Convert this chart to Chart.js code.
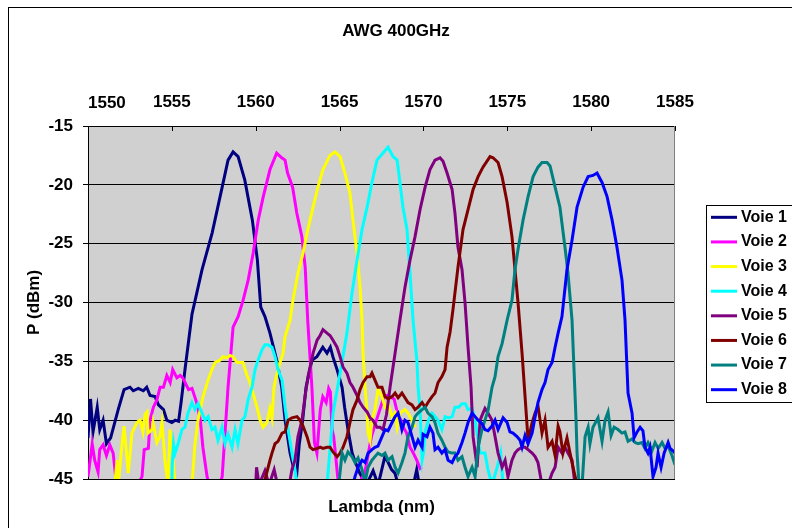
<!DOCTYPE html>
<html>
<head>
<meta charset="utf-8">
<title>AWG 400GHz</title>
<script src="https://cdn.jsdelivr.net/npm/chart.js@4.4.1/dist/chart.umd.min.js"></script>
<style>
  html, body { margin: 0; padding: 0; background: #fff; }
  #wrap { width: 792px; height: 528px; }
</style>
</head>
<body>
<div id="wrap"><canvas id="awgChart" width="792" height="528"></canvas></div>
<script>
// ---- texts ----
const CHART_TITLE = 'AWG 400GHz';
const X_TITLE = 'Lambda (nm)';
const Y_TITLE = 'P (dBm)';
const SERIES_NAMES = ['Voie 1', 'Voie 2', 'Voie 3', 'Voie 4', 'Voie 5', 'Voie 6', 'Voie 7', 'Voie 8'];
const SERIES_COLORS = ['#000080', '#FF00FF', '#FFFF00', '#00FFFF', '#800080', '#800000', '#008080', '#0000FF'];

// ---- axes (nm / dBm) ----
const X_TICKS = [1550, 1555, 1560, 1565, 1570, 1575, 1580, 1585];
const Y_TICKS = [-45, -40, -35, -30, -25, -20, -15];

// ---- measured spectra : [lambda nm, power dBm] ----
const voie1 = [[1550.0,-41.5],[1550.15,-38.2],[1550.3,-41],[1550.55,-38.9],[1550.7,-40.8],[1550.9,-40],[1551.1,-42],[1551.35,-41.5],[1551.8,-39.1],[1552.15,-37.4],[1552.5,-37.2],[1552.7,-37.5],[1553.0,-37.3],[1553.3,-37.5],[1553.5,-37.2],[1553.7,-37.9],[1554.0,-38],[1554.2,-38.7],[1554.5,-39.1],[1554.7,-40],[1555.0,-40.2],[1555.2,-40],[1555.4,-40.1],[1555.55,-38.5],[1555.8,-35.5],[1556.2,-31],[1556.8,-27.2],[1557.4,-24.1],[1558.0,-20.2],[1558.35,-17.9],[1558.65,-17.2],[1558.95,-17.6],[1559.35,-19.6],[1559.8,-23],[1560.1,-26.4],[1560.3,-30.4],[1560.55,-31.2],[1560.85,-32.6],[1561.25,-34.9],[1561.55,-37.2],[1561.75,-40],[1562.05,-42.8],[1562.25,-44],[1562.45,-44.5],[1562.6,-42],[1562.8,-40],[1563.0,-37.2],[1563.35,-34.9],[1563.65,-34.6],[1564.0,-33.8],[1564.25,-34.3],[1564.45,-33.8],[1564.6,-34.6],[1564.85,-35.7],[1565.15,-37.2],[1565.3,-38.9],[1565.5,-40.8],[1565.75,-42.8],[1565.9,-43.4],[1566.2,-44.5],[1566.6,-45.5],[1567.0,-44.3],[1567.3,-45.5],[1567.7,-43.1],[1567.9,-43.6],[1568.1,-44.2],[1568.3,-44.5],[1568.5,-45.5],[1569.4,-45.5],[1569.6,-44.2],[1569.75,-45.5]];
const voie2 = [[1550.0,-44.8],[1550.25,-42],[1550.4,-43.4],[1550.6,-44.4],[1550.7,-42.5],[1550.9,-42.1],[1551.1,-43],[1551.3,-42.1],[1551.5,-42.8],[1551.65,-44.8],[1552.4,-47],[1553.22,-44.8],[1553.35,-42.5],[1553.6,-42.4],[1553.7,-40],[1553.9,-38.9],[1554.1,-38.3],[1554.3,-37.2],[1554.5,-37.2],[1554.7,-36.2],[1554.9,-36.8],[1555.05,-35.7],[1555.3,-36.4],[1555.5,-36.2],[1555.65,-36.4],[1556.0,-37.4],[1556.2,-37.3],[1556.5,-38.6],[1556.7,-40],[1556.85,-42.3],[1557.1,-44.8],[1557.5,-47],[1558.0,-44.8],[1558.35,-37.2],[1558.65,-32.1],[1558.95,-31.2],[1559.25,-29.8],[1559.55,-28.1],[1559.85,-25.8],[1560.15,-23],[1560.45,-21],[1560.85,-18.7],[1561.25,-17.3],[1561.55,-17.7],[1561.75,-17.9],[1561.9,-19],[1562.2,-20.2],[1562.45,-22.4],[1562.75,-24.4],[1562.95,-27],[1563.1,-31.5],[1563.35,-37.2],[1563.5,-41.9],[1563.65,-42.8],[1563.85,-39.1],[1564.0,-38],[1564.2,-38.5],[1564.35,-37.3],[1564.45,-37.6],[1564.55,-40.8],[1564.65,-41.4],[1564.75,-42.8],[1564.9,-45],[1565.5,-47],[1566.5,-44.5],[1566.9,-41.4],[1567.2,-40],[1567.65,-38],[1567.85,-37.9],[1568.25,-38.2],[1568.45,-39.4],[1568.65,-40],[1568.8,-40.6],[1569.0,-41.1],[1569.2,-42.3],[1569.4,-42.8],[1569.6,-43.4],[1569.8,-44.1],[1569.9,-44]];
const voie3 = [[1551.6,-45.5],[1551.73,-43.4],[1551.8,-45.5],[1552.0,-42.5],[1552.15,-40.5],[1552.4,-44.5],[1552.62,-41.1],[1552.92,-40.2],[1553.1,-40],[1553.28,-41],[1553.4,-39.5],[1553.52,-39.3],[1553.58,-41.1],[1553.82,-40.8],[1553.88,-40.2],[1554.11,-41.9],[1554.29,-41.4],[1554.41,-40.2],[1554.59,-43.4],[1554.77,-45.5],[1554.89,-40.8],[1555.05,-43],[1555.19,-45.5],[1556.2,-45.5],[1556.38,-42],[1556.56,-40],[1556.86,-38],[1557.16,-36.6],[1557.39,-35.7],[1557.57,-35.1],[1557.87,-34.9],[1558.05,-34.6],[1558.29,-34.7],[1558.47,-34.5],[1558.65,-34.6],[1558.88,-35.1],[1559.06,-35.1],[1559.24,-35.1],[1559.48,-36.2],[1559.66,-36.8],[1559.84,-37.7],[1560.08,-38.9],[1560.26,-40],[1560.44,-40.6],[1560.67,-40.2],[1560.85,-39],[1560.97,-39.8],[1561.09,-37.2],[1561.27,-36],[1561.45,-35.1],[1561.63,-34.3],[1561.75,-32.9],[1562.05,-31.5],[1562.22,-29.8],[1562.52,-27.5],[1562.82,-25.8],[1563.06,-24.1],[1563.42,-21.9],[1563.71,-20.2],[1564.01,-18.7],[1564.43,-17.5],[1564.73,-17.2],[1565.03,-17.6],[1565.32,-19],[1565.62,-20.7],[1565.8,-23],[1566.04,-25.8],[1566.22,-28.7],[1566.34,-31.5],[1566.4,-34.3],[1566.52,-37.2],[1566.64,-39.4],[1566.7,-41.1],[1566.82,-41.7],[1566.93,-40],[1567.11,-39.1],[1567.29,-37.4],[1567.53,-38],[1567.71,-38.9],[1567.89,-38.6],[1568.13,-39.7],[1568.31,-39.4],[1568.43,-40.6],[1568.6,-39.4],[1568.9,-39.1],[1569.08,-39.4],[1569.32,-40],[1569.5,-40.6]];
const voie4 = [[1555.0,-45.5],[1555.03,-43.6],[1555.1,-42],[1555.19,-42.8],[1555.37,-42],[1555.6,-40.8],[1555.78,-40.6],[1555.96,-39.4],[1556.2,-38.5],[1556.38,-39.1],[1556.56,-38.6],[1556.8,-39.4],[1556.98,-40],[1557.16,-39.7],[1557.39,-40.8],[1557.57,-40.6],[1557.75,-41.7],[1557.99,-40.6],[1558.17,-42],[1558.35,-41.2],[1558.59,-42.3],[1558.77,-40.8],[1558.94,-42],[1559.18,-40],[1559.36,-39.7],[1559.54,-38.3],[1559.78,-37.2],[1559.96,-35.7],[1560.14,-34.9],[1560.38,-34],[1560.55,-33.6],[1560.73,-33.6],[1560.97,-33.8],[1561.15,-34.6],[1561.33,-35.7],[1561.57,-36.6],[1561.75,-38.9],[1561.93,-40.8],[1562.16,-42.8],[1562.34,-44.2],[1562.46,-45.5],[1564.25,-45.5],[1564.4,-43],[1564.61,-39.4],[1565.03,-36],[1565.44,-32.6],[1565.74,-29.2],[1566.04,-26.4],[1566.34,-23.8],[1566.64,-21.9],[1566.93,-19.8],[1567.23,-17.9],[1567.59,-17.3],[1567.89,-16.8],[1568.19,-17.6],[1568.43,-17.9],[1568.6,-19.8],[1568.78,-21.9],[1569.02,-23.8],[1569.2,-27.5],[1569.38,-31.5],[1569.62,-35.1],[1569.68,-37.2],[1569.8,-39.1],[1569.92,-43.4],[1570.0,-42.8],[1570.1,-41],[1570.3,-40],[1570.51,-39.4],[1570.7,-39.7],[1570.87,-40],[1571.1,-40.8],[1571.29,-39.7],[1571.5,-39.8],[1571.71,-39.7],[1571.88,-38.9],[1572.1,-38.9],[1572.3,-38.6],[1572.5,-38.6],[1572.66,-39.1],[1572.9,-39],[1573.08,-40],[1573.38,-42.8],[1573.67,-42.8],[1573.85,-44.2],[1574.09,-45.5],[1574.4,-44],[1574.6,-42.8],[1574.75,-45.5]];
const voie5 = [[1560.0,-45.5],[1560.05,-44],[1560.2,-45.5],[1560.55,-44.3],[1560.8,-45.5],[1561.1,-44.2],[1561.3,-45.5],[1562.0,-45.5],[1562.16,-44.2],[1562.34,-43.4],[1562.52,-41.4],[1562.76,-40],[1562.94,-38],[1563.12,-36.3],[1563.42,-34.3],[1563.66,-33.2],[1563.84,-32.8],[1564.01,-32.3],[1564.25,-32.6],[1564.43,-32.8],[1564.61,-33.2],[1564.85,-33.8],[1565.03,-34.6],[1565.21,-35.5],[1565.44,-36],[1565.62,-36.8],[1565.8,-37.2],[1566.04,-37.9],[1566.22,-38.5],[1566.4,-38.9],[1566.64,-39.3],[1566.82,-39.8],[1566.99,-40],[1567.23,-40.6],[1567.41,-40.6],[1567.59,-40.8],[1567.8,-39.5],[1568.01,-37.2],[1568.31,-34.3],[1568.6,-31.5],[1568.9,-28.7],[1569.2,-26.4],[1569.5,-24.4],[1569.8,-22.1],[1570.1,-20.2],[1570.39,-18.7],[1570.69,-17.9],[1570.99,-17.7],[1571.17,-18],[1571.41,-19],[1571.71,-20.4],[1571.88,-22.4],[1572.06,-25.3],[1572.3,-27.2],[1572.48,-30],[1572.66,-33.8],[1572.84,-37.2],[1572.96,-41.4],[1573.2,-44],[1573.38,-40],[1573.55,-39.4],[1573.67,-39],[1573.85,-39.4],[1574.09,-40],[1574.27,-41.4],[1574.45,-42.8],[1574.69,-44],[1574.87,-43.4],[1575.04,-44.8],[1575.28,-43.4],[1575.46,-42.8],[1575.64,-42.5],[1575.88,-42.3],[1576.06,-42.3],[1576.24,-42.5],[1576.48,-42.8],[1576.66,-43.1],[1576.83,-43.6],[1577.07,-45.5],[1577.43,-45.5],[1577.67,-44.5],[1577.85,-44],[1578.03,-42.3],[1578.26,-42.8],[1578.44,-42.3],[1578.62,-42.8],[1578.86,-43.4],[1579.04,-45.5]];
const voie6 = [[1560.5,-45.5],[1560.6,-44.8],[1560.85,-43.4],[1560.97,-42.8],[1561.15,-42],[1561.33,-41.8],[1561.57,-41.1],[1561.75,-41],[1561.93,-40],[1562.16,-39.8],[1562.46,-39.7],[1562.64,-40],[1562.82,-40.5],[1563.06,-41.4],[1563.24,-42.3],[1563.42,-42.5],[1563.66,-42.4],[1563.84,-42.3],[1564.01,-42.4],[1564.25,-42.3],[1564.43,-42.3],[1564.61,-42.7],[1564.85,-43.1],[1565.03,-42.8],[1565.21,-42.3],[1565.44,-41.4],[1565.62,-40.2],[1565.8,-39.1],[1566.04,-38.3],[1566.22,-37.4],[1566.4,-36.8],[1566.64,-36.3],[1566.82,-36.3],[1566.93,-36],[1567.11,-36.6],[1567.29,-37.2],[1567.53,-37.2],[1567.71,-38],[1567.89,-38.2],[1568.13,-38],[1568.31,-37.7],[1568.49,-38.1],[1568.72,-37.7],[1568.9,-38.1],[1569.08,-38.5],[1569.32,-38.7],[1569.5,-39.1],[1569.68,-38.9],[1569.92,-38.5],[1570.1,-38.9],[1570.27,-38.5],[1570.51,-38],[1570.69,-37.7],[1570.87,-36.8],[1571.1,-36.3],[1571.29,-35.7],[1571.41,-33.8],[1571.59,-32.5],[1571.77,-30.5],[1572.06,-27],[1572.36,-23.8],[1572.66,-22.1],[1572.96,-20.4],[1573.26,-19.3],[1573.55,-18.5],[1573.97,-17.6],[1574.15,-17.7],[1574.45,-18.1],[1574.69,-19.3],[1574.99,-21.5],[1575.28,-24.4],[1575.46,-27.2],[1575.64,-30],[1575.88,-34.3],[1576.06,-38],[1576.24,-41.7],[1576.36,-41],[1576.48,-40.2],[1576.66,-39.4],[1576.83,-38.8],[1577.07,-41.1],[1577.25,-40],[1577.43,-42.3],[1577.67,-41.8],[1577.85,-43],[1578.03,-40.5],[1578.14,-41],[1578.32,-42.8],[1578.56,-41.5],[1578.74,-42.8],[1578.92,-44],[1579.16,-45.5]];
const voie7 = [[1564.95,-45.5],[1565.15,-42.8],[1565.32,-43.4],[1565.5,-42.7],[1565.74,-43.1],[1565.92,-43.6],[1566.1,-43.2],[1566.34,-44.2],[1566.52,-45.3],[1566.7,-44],[1566.93,-43.4],[1567.11,-43.1],[1567.29,-42.8],[1567.53,-43],[1567.71,-42.8],[1567.89,-43.4],[1568.13,-43.1],[1568.31,-44],[1568.49,-44.5],[1568.72,-43.6],[1568.9,-42.8],[1569.08,-41.4],[1569.32,-40.6],[1569.5,-39.7],[1569.68,-39.4],[1569.92,-39.1],[1570.1,-38.9],[1570.27,-39.4],[1570.51,-39.7],[1570.69,-40.2],[1570.87,-41.1],[1571.1,-41.7],[1571.29,-42.3],[1571.47,-42.7],[1571.71,-42.8],[1571.88,-42.8],[1572.06,-43.4],[1572.3,-43.1],[1572.48,-44],[1572.66,-44.8],[1572.9,-44],[1573.08,-44.8],[1573.26,-42.3],[1573.49,-40.8],[1573.67,-40],[1573.85,-39.2],[1574.09,-37.2],[1574.27,-36.3],[1574.45,-34.6],[1574.69,-33.5],[1574.99,-31.5],[1575.28,-29.8],[1575.46,-27.2],[1575.64,-25.5],[1575.94,-23],[1576.24,-21],[1576.54,-19.3],[1576.83,-18.5],[1577.07,-18.1],[1577.37,-18.1],[1577.55,-18.4],[1577.85,-20.2],[1578.14,-21.9],[1578.44,-25.3],[1578.62,-27.5],[1578.86,-31.5],[1578.98,-35.7],[1579.1,-40],[1579.16,-42.8],[1579.28,-45.5],[1579.46,-45.5],[1579.64,-41.4],[1579.82,-40.6],[1579.93,-42],[1580.11,-40.6],[1580.41,-39.8],[1580.65,-41.8],[1580.83,-40],[1581.01,-39.3],[1581.19,-41.3],[1581.37,-40.6],[1581.6,-40.8],[1581.84,-41.1],[1582.02,-41],[1582.2,-41.8],[1582.44,-41.6],[1582.62,-41.9],[1582.8,-42],[1583.03,-41.9],[1583.21,-42.4],[1583.39,-41.9],[1583.63,-42.6],[1583.81,-41.9],[1584.0,-42.4],[1584.23,-41.9],[1584.41,-42.4],[1584.59,-42.2],[1584.82,-43],[1585.0,-43.8]];
const voie8 = [[1565.8,-45.5],[1565.92,-44.8],[1566.1,-44],[1566.34,-43.4],[1566.52,-43.6],[1566.7,-42.8],[1566.93,-42.5],[1567.11,-42.3],[1567.29,-42.2],[1567.53,-41.4],[1567.71,-40.8],[1567.89,-40.9],[1568.13,-40.2],[1568.31,-39.7],[1568.49,-39.4],[1568.6,-40],[1568.72,-40.8],[1568.9,-40],[1569.08,-40.2],[1569.32,-41.4],[1569.5,-42.3],[1569.68,-41.7],[1569.92,-42.3],[1569.98,-41.2],[1570.21,-41.4],[1570.39,-40.6],[1570.57,-41.1],[1570.69,-42.5],[1570.87,-42.3],[1571.1,-42.8],[1571.29,-42.5],[1571.47,-43.4],[1571.71,-43.6],[1571.88,-43.1],[1572.06,-42.8],[1572.3,-41.9],[1572.48,-41.1],[1572.66,-40.2],[1572.9,-39.4],[1573.08,-39.7],[1573.26,-40],[1573.49,-40.3],[1573.67,-40.8],[1573.85,-40.9],[1574.09,-40.5],[1574.27,-40],[1574.45,-40.8],[1574.69,-40],[1574.75,-39.8],[1574.99,-40.2],[1575.16,-41],[1575.34,-41.1],[1575.58,-41.4],[1575.76,-41.7],[1575.88,-42.3],[1576.06,-41.3],[1576.24,-42],[1576.48,-41.1],[1576.66,-39.7],[1576.83,-38.5],[1577.07,-37.4],[1577.25,-36.8],[1577.43,-35.7],[1577.67,-35.1],[1577.85,-33.8],[1578.03,-32.6],[1578.26,-31.2],[1578.56,-27.2],[1578.86,-24.7],[1579.16,-21.9],[1579.52,-20.2],[1579.82,-19.3],[1580.11,-19.2],[1580.35,-19],[1580.65,-19.8],[1580.95,-21],[1581.25,-23],[1581.54,-25.3],[1581.84,-28.1],[1582.02,-31.5],[1582.1,-34.3],[1582.2,-37.7],[1582.44,-39.4],[1582.56,-41.5],[1582.74,-41],[1582.92,-40.6],[1583.09,-40.9],[1583.21,-42.3],[1583.39,-42.8],[1583.51,-42.3],[1583.69,-44.8],[1583.87,-44],[1583.99,-42.8],[1584.17,-44],[1584.35,-42.8],[1584.59,-41.9],[1584.71,-42.4],[1584.88,-42.6],[1585.0,-42.8]];

const SERIES = [voie1, voie2, voie3, voie4, voie5, voie6, voie7, voie8];

const FONT = 'Arial, "Liberation Sans", sans-serif';
const LABEL_FONT = { family: FONT, size: 17, weight: 'bold' };

// ---- small drawing plugins (frame, plot background, legend box) ----
const frameAndBack = {
    id: 'frameAndBack',
    beforeDraw(chart) {
        const {ctx, chartArea: a} = chart;
        ctx.save();
        ctx.fillStyle = '#fff';
        ctx.fillRect(0, 0, chart.width, chart.height);
        ctx.strokeStyle = '#000';
        ctx.lineWidth = 1;
        ctx.strokeRect(8.5, 7.5, chart.width, chart.height);
        ctx.fillStyle = '#d0d0d0';
        ctx.fillRect(a.left, a.top, a.right - a.left, a.bottom - a.top);
        ctx.restore();
    },
    afterDraw(chart) {
        const {ctx, chartArea: a} = chart;
        const xs = chart.scales.x;
        ctx.save();
        // inside tick marks on the top axis
        ctx.strokeStyle = '#000';
        ctx.lineWidth = 1;
        X_TICKS.forEach(v => {
            const px = Math.round(xs.getPixelForValue(v)) + 0.5;
            ctx.beginPath();
            ctx.moveTo(px, a.top);
            ctx.lineTo(px, a.top + 5);
            ctx.stroke();
        });
        // right edge of the plot area
        ctx.strokeStyle = '#808080';
        ctx.beginPath();
        ctx.moveTo(Math.round(a.right) - 0.5, a.top);
        ctx.lineTo(Math.round(a.right) - 0.5, a.bottom);
        ctx.stroke();
        // first top label is kept inside the plot width, like the original
        ctx.fillStyle = '#000';
        ctx.font = `bold ${LABEL_FONT.size}px ${FONT}`;
        ctx.textAlign = 'left';
        ctx.textBaseline = 'middle';
        ctx.fillText(String(X_TICKS[0]), a.left, a.top - 23);
        ctx.restore();
    }
};

const boxLegend = {
    id: 'boxLegend',
    afterDraw(chart) {
        const ctx = chart.ctx;
        const left = 706, top = 205, bottom = 402;
        const step = (bottom - top) / chart.data.datasets.length;
        ctx.save();
        ctx.fillStyle = '#fff';
        ctx.fillRect(left, top, chart.width - left, bottom - top);
        ctx.strokeStyle = '#000';
        ctx.lineWidth = 1;
        ctx.strokeRect(left + 0.5, top + 0.5, chart.width, bottom - top);
        ctx.font = `bold 16px ${FONT}`;
        ctx.textBaseline = 'middle';
        ctx.textAlign = 'left';
        chart.data.datasets.forEach((ds, i) => {
            const y = top + step * (i + 0.5);
            ctx.strokeStyle = ds.borderColor;
            ctx.lineWidth = 3;
            ctx.beginPath();
            ctx.moveTo(711, y);
            ctx.lineTo(737, y);
            ctx.stroke();
            ctx.fillStyle = '#000';
            ctx.fillText(ds.label, 741, y);
        });
        ctx.restore();
    }
};

// ---- chart ----
const datasets = SERIES.map((pts, i) => ({
    label: SERIES_NAMES[i],
    data: pts.map(p => ({ x: p[0], y: p[1] })),
    borderColor: SERIES_COLORS[i],
    backgroundColor: SERIES_COLORS[i],
    borderWidth: 3,
    pointRadius: 0,
    tension: 0,
    fill: false,
    order: SERIES.length - i
}));

new Chart(document.getElementById('awgChart').getContext('2d'), {
    type: 'line',
    data: { datasets },
    options: {
        responsive: false,
        animation: false,
        layout: { padding: 0 },
        plugins: {
            legend: { display: false },
            tooltip: { enabled: false },
            title: {
                display: true,
                text: CHART_TITLE,
                color: '#000',
                font: { family: FONT, size: 17, weight: 'bold' },
                padding: { top: 21, bottom: 0 }
            }
        },
        scales: {
            x: {
                type: 'linear',
                position: 'top',
                min: X_TICKS[0],
                max: X_TICKS[X_TICKS.length - 1],
                afterBuildTicks: s => { s.ticks = X_TICKS.map(v => ({ value: v })); },
                ticks: {
                    color: '#000',
                    font: LABEL_FONT,
                    padding: 13,
                    maxRotation: 0,
                    autoSkip: false,
                    callback: (v, i) => (i === 0 ? '' : String(v))
                },
                grid: { drawOnChartArea: false, drawTicks: false },
                border: { color: '#000', width: 1 },
                afterFit: s => { s.height = 126 - 41.4; }
            },
            xb: {
                type: 'linear',
                axis: 'x',
                position: 'bottom',
                min: X_TICKS[0],
                max: X_TICKS[X_TICKS.length - 1],
                ticks: { display: false },
                grid: { display: false },
                border: { display: false },
                title: {
                    display: true,
                    text: X_TITLE,
                    color: '#000',
                    font: LABEL_FONT,
                    padding: { top: 0, bottom: 10 }
                },
                afterFit: s => { s.height = 49; }
            },
            y: {
                type: 'linear',
                position: 'left',
                min: Y_TICKS[0],
                max: Y_TICKS[Y_TICKS.length - 1],
                afterBuildTicks: s => { s.ticks = Y_TICKS.map(v => ({ value: v })); },
                ticks: {
                    color: '#000',
                    font: LABEL_FONT,
                    padding: 10
                },
                grid: { color: '#000', lineWidth: 1, tickLength: 5, tickColor: '#000' },
                border: { color: '#000', width: 1 },
                title: {
                    display: true,
                    text: Y_TITLE,
                    color: '#000',
                    font: LABEL_FONT,
                    padding: { top: 24, bottom: 0 }
                },
                afterFit: s => { s.width = 88; }
            },
            // empty right-hand strip that holds the legend box
            yr: {
                type: 'linear',
                axis: 'y',
                position: 'right',
                min: Y_TICKS[0],
                max: Y_TICKS[Y_TICKS.length - 1],
                ticks: { display: false },
                grid: { display: false },
                border: { display: false },
                afterFit: s => { s.width = 117; }
            }
        }
    },
    plugins: [frameAndBack, boxLegend]
});
</script>
</body>
</html>
